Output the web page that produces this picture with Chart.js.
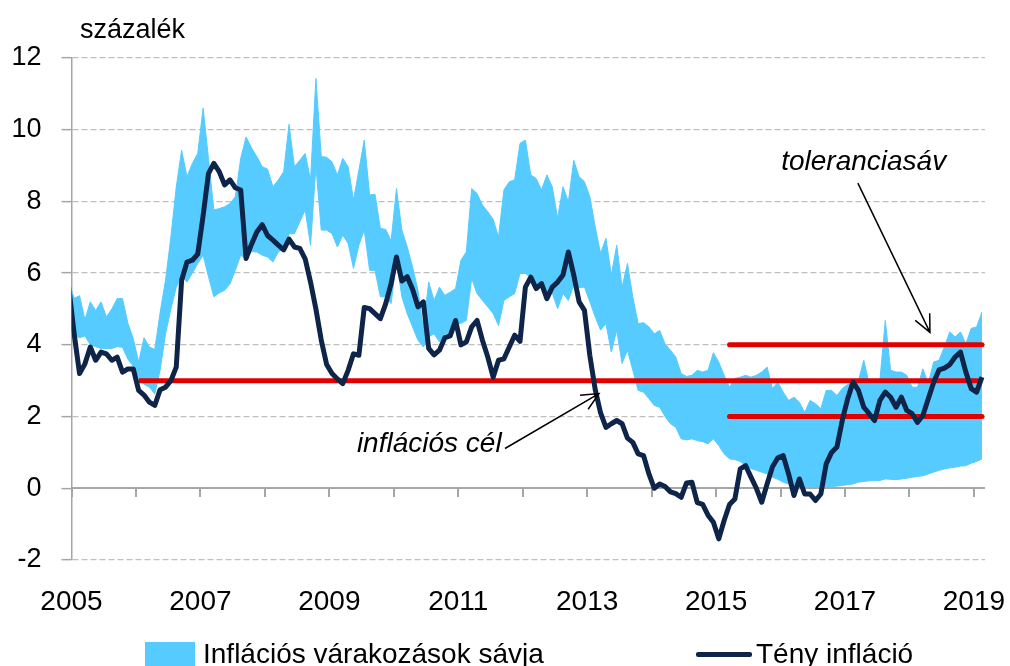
<!DOCTYPE html>
<html>
<head>
<meta charset="utf-8">
<script src="https://cdn.jsdelivr.net/npm/chart.js@4.4.1/dist/chart.umd.min.js"></script>
<style>
  html, body { margin: 0; padding: 0; background: #fff; overflow: hidden; }
  #wrap { position: relative; width: 1010px; height: 666px; }
  #legend { position: absolute; left: 0; top: 637px; width: 1010px; height: 40px;
            font-family: 'Liberation Sans', Arial, sans-serif; font-size: 28px; color: #000; }
  .item { position: absolute; top: 0; height: 34px; display: flex; align-items: center; white-space: nowrap; }
  .swatch { display: inline-block; margin-right: 8px; }
</style>
</head>
<body>
<div id="wrap">
  <canvas id="inflChart" width="1010" height="666"></canvas>
  <div id="legend"></div>
</div>
<script>
// monthly data, first observation Dec 2004, last Feb 2019
var firstYear = 2004, firstMonth = 12;

var actual = [5.6, 4.3, 3.2, 3.47, 3.94, 3.57, 3.8, 3.75, 3.57, 3.66, 3.24, 3.33, 3.33,
  2.73, 2.6, 2.4, 2.31, 2.75, 2.82, 3.0, 3.38, 5.8, 6.31, 6.36, 6.53,
  7.6, 8.78, 9.06, 8.83, 8.46, 8.6, 8.38, 8.32, 6.41, 6.8, 7.15, 7.35,
  7.05, 6.92, 6.78, 6.65, 6.95, 6.73, 6.69, 6.4, 5.75, 5.0, 4.13, 3.45,
  3.2, 3.05, 2.92, 3.29, 3.75, 3.71, 5.04, 5.01, 4.87, 4.73, 5.15, 5.71,
  6.45, 5.78, 5.9, 5.55, 5.06, 5.2, 3.9, 3.72, 3.85, 4.2, 4.25, 4.68,
  4.0, 4.08, 4.5, 4.68, 4.13, 3.66, 3.1, 3.57, 3.61, 3.94, 4.27, 4.1,
  5.61, 5.89, 5.57, 5.71, 5.29, 5.61, 5.75, 5.95, 6.59, 5.95, 5.2, 4.96,
  3.7, 2.75, 2.1, 1.7, 1.8, 1.89, 1.8, 1.4, 1.28, 0.96, 0.91, 0.4,
  0.0, 0.12, 0.05, -0.1, -0.15, -0.25, 0.15, 0.17, -0.4, -0.45, -0.75, -0.95,
  -1.41, -0.9, -0.45, -0.3, 0.54, 0.63, 0.31, 0.0, -0.39, 0.12, 0.6, 0.85,
  0.91, 0.4, -0.2, 0.26, -0.16, -0.16, -0.34, -0.16, 0.68, 1.0, 1.15, 1.9,
  2.5, 2.96, 2.73, 2.26, 2.08, 1.89, 2.45, 2.68, 2.54, 2.26, 2.54, 2.17,
  2.08, 1.84, 2.03, 2.5, 2.95, 3.3, 3.35, 3.45, 3.66, 3.8, 3.24, 2.78,
  2.68, 3.1];

var expHigh = [5.75, 5.3, 5.37, 4.7, 5.2, 4.96, 5.2, 4.78, 5.0, 5.29, 5.29, 4.6, 4.17,
  3.52, 4.2, 3.94, 3.87, 4.9, 5.8, 7.0, 8.4, 9.43, 8.69, 9.06, 9.34,
  10.6, 9.2, 7.76, 7.8, 7.85, 7.94, 8.13, 9.2, 9.8, 9.5, 9.25, 8.97,
  8.9, 8.41, 8.6, 8.83, 10.15, 8.97, 9.15, 9.34, 8.6, 11.43, 9.25, 9.23,
  9.1, 8.74, 9.2, 8.97, 8.04, 8.87, 9.71, 8.18, 8.2, 7.25, 7.22, 6.9,
  8.36, 7.2, 6.73, 6.17, 5.52, 4.45, 5.75, 5.24, 5.61, 5.38, 5.47, 5.57,
  6.36, 6.59, 8.36, 8.22, 7.9, 7.71, 7.5, 7.01, 8.32, 8.55, 8.6, 9.62,
  9.71, 8.74, 8.64, 8.32, 8.74, 8.41, 7.53, 8.41, 7.99, 9.15, 8.69, 8.55,
  8.13, 7.29, 6.55, 6.97, 5.94, 6.78, 5.61, 6.27, 5.33, 4.59, 4.62, 4.5,
  4.31, 4.4, 4.03, 3.85, 3.66, 3.2, 3.12, 3.15, 3.29, 3.24, 3.29, 3.78,
  3.52, 3.15, 2.82, 3.06, 3.1, 3.15, 3.1, 3.15, 3.24, 3.38, 2.78, 2.96,
  2.68, 2.45, 2.54, 2.4, 2.12, 2.45, 2.36, 2.22, 2.73, 2.73, 2.59, 2.78,
  2.9, 2.95, 3.0, 3.57, 2.92, 2.92, 3.01, 4.68, 3.29, 3.24, 3.24, 3.15,
  2.82, 2.82, 3.33, 2.92, 3.52, 3.57, 3.94, 4.36, 4.22, 4.36, 4.03, 4.46,
  4.5, 4.92];

var expLow = [4.31, 4.26, 4.2, 4.25, 4.0, 3.95, 3.9, 3.9, 3.9, 3.95, 3.93, 3.6, 3.4,
  3.1, 2.9, 2.82, 2.63, 3.3, 4.3, 5.0, 5.6, 5.9, 5.75, 6.0, 6.27,
  6.5, 5.9, 5.34, 5.45, 5.52, 5.7, 6.08, 6.5, 6.4, 6.6, 6.59, 6.5,
  6.45, 6.31, 6.59, 6.69, 7.1, 7.1, 7.43, 7.76, 6.78, 8.97, 7.2, 7.2,
  7.1, 6.73, 7.06, 6.83, 6.13, 6.78, 7.2, 6.08, 6.08, 5.34, 5.34, 5.15,
  6.36, 5.34, 4.87, 4.5, 4.13, 3.94, 4.22, 4.31, 4.08, 4.31, 4.31, 4.59,
  4.6, 4.68, 5.85, 5.43, 5.24, 5.06, 4.87, 4.54, 5.24, 5.34, 5.43, 5.99,
  5.99, 5.89, 5.57, 5.61, 5.43, 5.45, 5.01, 5.43, 5.24, 5.66, 5.6, 5.61,
  5.2, 4.78, 4.41, 4.59, 3.8, 4.41, 3.48, 3.85, 3.29, 2.73, 2.68, 2.5,
  2.31, 2.26, 2.0, 1.8, 1.7, 1.38, 1.35, 1.38, 1.33, 1.3, 1.24, 1.38,
  1.19, 0.96, 0.82, 0.8, 0.75, 0.63, 0.55, 0.5, 0.45, 0.4, 0.31, 0.25,
  0.17, 0.12, 0.08, 0.06, 0.05, 0.04, 0.03, 0.04, 0.05, 0.05, 0.06, 0.08,
  0.1, 0.12, 0.17, 0.19, 0.21, 0.21, 0.22, 0.26, 0.25, 0.24, 0.26, 0.28,
  0.31, 0.33, 0.35, 0.4, 0.45, 0.5, 0.54, 0.57, 0.59, 0.62, 0.63, 0.7,
  0.75, 0.82];

// target (3%) and tolerance band (2-4%)
var targetLevels = [3, 4, 2];
var targetFrom = ['2006-01', '2015-03', '2015-03'];
var targetTo = ['2019-02', '2019-02', '2019-02'];

var yearTicks = [2005, 2006, 2007, 2008, 2009, 2010, 2011, 2012, 2013, 2014, 2015, 2016, 2017, 2018, 2019];
var yTicks = [-2, 0, 2, 4, 6, 8, 10, 12];

var bandLabel = 'Inflációs várakozások sávja';
var lineLabel = 'Tény infláció';
var unitLabel = 'százalék';

var notes = [
  { text: 'toleranciasáv', at: [2017.29, 8.87], from: [2017.2, 8.51], to: [2018.318, 4.35] },
  { text: 'inflációs cél', at: [2010.55, 1.0], from: [2011.725, 1.11], to: [2013.183, 2.64] }
];

var FONT = "'Liberation Sans', Arial, sans-serif";
var BAND = '#55CBFF', NAVY = '#0E2449', RED = '#E00000';

var months = actual.map(function (_, i) {
  var m = firstMonth - 1 + i;
  return (firstYear + Math.floor(m / 12)) + '-' + String(m % 12 + 1).padStart(2, '0');
});
function monthX(s) {
  var p = s.split('-').map(Number);
  return p[0] + (p[1] - 0.5) / 12;
}
function pts(arr) {
  return arr.map(function (v, i) { return { x: monthX(months[i]), y: v }; });
}

var datasets = [
  { label: lineLabel, data: pts(actual), borderColor: NAVY, backgroundColor: NAVY,
    borderWidth: 5, pointRadius: 0, fill: false, borderJoinStyle: 'round', clip: 0 }
];
targetLevels.forEach(function (lv, i) {
  datasets.push({ label: 'target' + i, data: [{ x: monthX(targetFrom[i]), y: lv }, { x: monthX(targetTo[i]), y: lv }],
    borderColor: RED, borderWidth: 5, pointRadius: 0, fill: false,
    borderCapStyle: i === 0 ? 'butt' : 'round' });
});
datasets.push({ label: bandLabel, data: pts(expHigh), borderColor: BAND, backgroundColor: BAND,
  borderWidth: 1, pointRadius: 0, fill: '+1', clip: 0 });
datasets.push({ label: 'low', data: pts(expLow), borderColor: BAND, backgroundColor: BAND,
  borderWidth: 1, pointRadius: 0, fill: false, clip: 0 });

var extras = {
  id: 'extras',
  beforeDatasetsDraw: function (chart) {
    var ctx = chart.ctx, x = chart.scales.x, y = chart.scales.y, area = chart.chartArea;
    var y0 = Math.round(y.getPixelForValue(0));
    ctx.save();
    ctx.strokeStyle = '#A6A6A6';
    ctx.lineWidth = 2;
    ctx.beginPath();
    ctx.moveTo(area.left, y0);
    ctx.lineTo(area.right, y0);
    yearTicks.forEach(function (v) {
      var px = Math.round(x.getPixelForValue(v));
      ctx.moveTo(px, y0);
      ctx.lineTo(px, y0 + 9);
    });
    ctx.stroke();
    ctx.restore();
  },
  afterDraw: function (chart) {
    var ctx = chart.ctx, x = chart.scales.x, y = chart.scales.y;
    ctx.save();
    ctx.fillStyle = '#000';
    ctx.font = '27px ' + FONT;
    ctx.textAlign = 'left';
    ctx.textBaseline = 'alphabetic';
    ctx.fillText(unitLabel, 80, 38);

    ctx.font = 'italic 28px ' + FONT;
    ctx.textAlign = 'center';
    ctx.strokeStyle = '#000';
    ctx.lineWidth = 1.5;
    notes.forEach(function (n) {
      ctx.fillText(n.text, x.getPixelForValue(n.at[0]), y.getPixelForValue(n.at[1]));
      var x1 = x.getPixelForValue(n.from[0]), y1 = y.getPixelForValue(n.from[1]);
      var x2 = x.getPixelForValue(n.to[0]), y2 = y.getPixelForValue(n.to[1]);
      var ang = Math.atan2(y2 - y1, x2 - x1), head = 19, spread = 25 * Math.PI / 180;
      ctx.beginPath();
      ctx.moveTo(x1, y1);
      ctx.lineTo(x2, y2);
      ctx.moveTo(x2 - head * Math.cos(ang - spread), y2 - head * Math.sin(ang - spread));
      ctx.lineTo(x2, y2);
      ctx.lineTo(x2 - head * Math.cos(ang + spread), y2 - head * Math.sin(ang + spread));
      ctx.stroke();
    });
    ctx.restore();
  }
};

var chart = new Chart(document.getElementById('inflChart').getContext('2d'), {
  type: 'line',
  data: { datasets: datasets },
  options: {
    responsive: false,
    animation: false,
    devicePixelRatio: 1,
    layout: { padding: { top: 58, right: 25, left: 0, bottom: 0 } },
    plugins: { legend: { display: false }, tooltip: { enabled: false } },
    scales: {
      x: {
        type: 'linear',
        min: 2005,
        max: 2019.172,
        afterBuildTicks: function (s) { s.ticks = yearTicks.map(function (v) { return { value: v }; }); },
        afterFit: function (s) { s.height = 106; s.paddingLeft = 0; s.paddingRight = 0; },
        ticks: {
          autoSkip: false, maxRotation: 0, padding: 25, color: '#000',
          font: { family: FONT, size: 28 },
          callback: function (v) { return v % 2 === 1 ? String(v) : ''; }
        },
        grid: { display: false, drawTicks: false },
        border: { display: false }
      },
      y: {
        min: -2,
        max: 12,
        afterBuildTicks: function (s) { s.ticks = yTicks.map(function (v) { return { value: v }; }); },
        afterFit: function (s) { s.width = 71.5; },
        ticks: { color: '#000', padding: 20, font: { family: FONT, size: 27 } },
        grid: {
          color: function (c) { return c.tick && c.tick.value === 0 ? 'rgba(0,0,0,0)' : '#BFBFBF'; },
          lineWidth: 1.3, tickColor: '#A6A6A6', tickLength: 10, tickWidth: 1.5
        },
        border: { display: true, color: '#A6A6A6', width: 1.5, dash: [6, 3] }
      }
    }
  },
  plugins: [extras]
});

// legend as html
(function () {
  var legend = document.getElementById('legend');
  var band = chart.data.datasets[4], line = chart.data.datasets[0];
  var items = [
    { ds: band, left: 145, sw: '<span class="swatch" style="width:50px;height:24px;background:' + band.backgroundColor + '"></span>' },
    { ds: line, left: 696, sw: '<span class="swatch" style="width:56px;height:5px;border-radius:2px;background:' + line.borderColor + ';margin-right:4px"></span>' }
  ];
  items.forEach(function (it) {
    var d = document.createElement('div');
    d.className = 'item';
    d.style.left = it.left + 'px';
    d.innerHTML = it.sw + '<span>' + it.ds.label + '</span>';
    legend.appendChild(d);
  });
})();
</script>
</body>
</html>
